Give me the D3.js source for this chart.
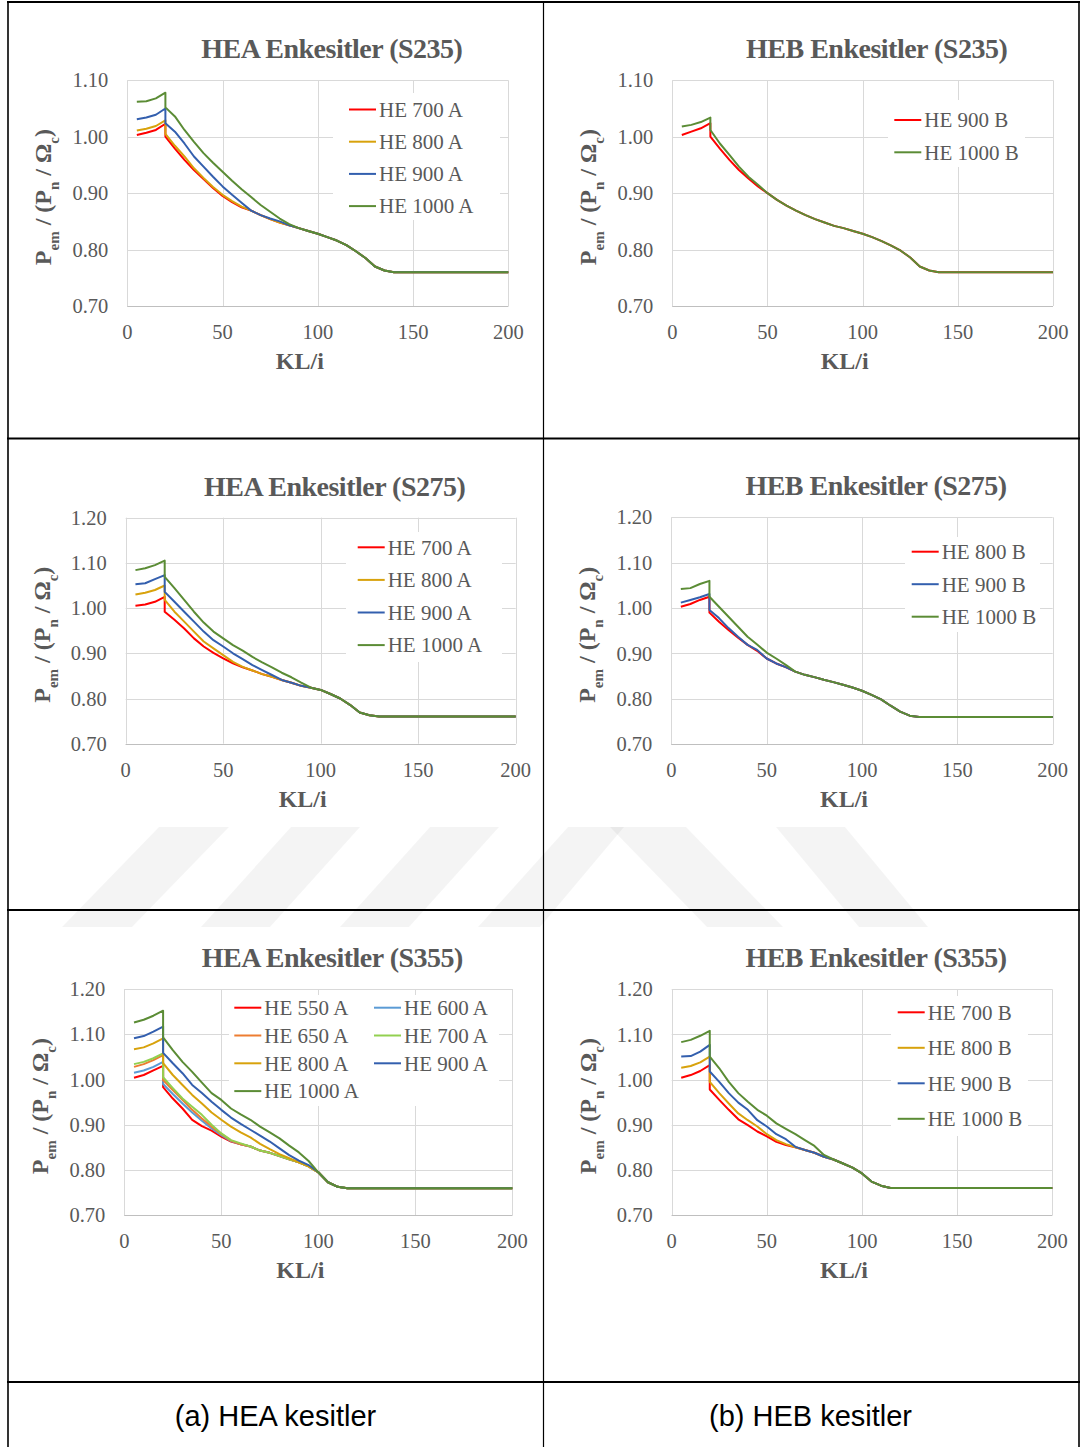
<!DOCTYPE html>
<html lang="tr">
<head>
<meta charset="utf-8">
<script src="https://d3js.org/d3.v7.min.js"></script>
<style>
  body { margin: 0; background: #fff; }
  svg text { fill: #595959; }
</style>
</head>
<body>
<script>
// KL/i values shared by every series (20 appears twice: the jump)
var kl = [5, 10, 15, 20, 20, 25, 30, 35, 40, 45, 50, 55, 60, 65, 70, 75, 80, 85, 90, 95, 100, 105, 110, 115, 120, 125, 130, 135, 140, 200];

var xTicks = [0, 50, 100, 150, 200];
var yTicks110 = [0.70, 0.80, 0.90, 1.00, 1.10];
var yTicks120 = [0.70, 0.80, 0.90, 1.00, 1.10, 1.20];

var titles = ["HEA Enkesitler (S235)", "HEB Enkesitler (S235)", "HEA Enkesitler (S275)",
              "HEB Enkesitler (S275)", "HEA Enkesitler (S355)", "HEB Enkesitler (S355)"];
var captions = ["(a) HEA kesitler", "(b) HEB kesitler"];

// S235 HEA
var a235_700  = [1.003,1.007,1.012,1.023,1.000,0.979,0.959,0.941,0.925,0.909,0.895,0.884,0.875,0.869,0.861,0.854,0.848,0.843,0.838,0.833,0.828,0.822,0.816,0.808,0.797,0.785,0.770,0.763,0.760,0.760];
var a235_800  = [1.011,1.014,1.019,1.029,1.005,0.984,0.965,0.944,0.927,0.911,0.897,0.886,0.876,0.869,0.861,0.854,0.848,0.843,0.838,0.833,0.828,0.822,0.816,0.808,0.797,0.785,0.770,0.763,0.760,0.760];
var a235_900  = [1.031,1.034,1.039,1.050,1.024,1.009,0.988,0.965,0.947,0.929,0.912,0.897,0.883,0.869,0.861,0.855,0.850,0.843,0.838,0.833,0.828,0.822,0.816,0.808,0.797,0.785,0.770,0.763,0.760,0.760];
var a235_1000 = [1.062,1.063,1.068,1.078,1.052,1.036,1.012,0.991,0.971,0.954,0.938,0.922,0.907,0.893,0.879,0.867,0.855,0.845,0.838,0.833,0.828,0.822,0.816,0.808,0.797,0.785,0.770,0.763,0.760,0.760];

// S235 HEB
var b235_900  = [1.003,1.009,1.015,1.024,1.000,0.979,0.959,0.941,0.926,0.912,0.900,0.888,0.878,0.869,0.861,0.854,0.848,0.842,0.838,0.833,0.828,0.822,0.815,0.807,0.798,0.786,0.770,0.763,0.760,0.760];
var b235_1000 = [1.018,1.021,1.026,1.034,1.012,0.988,0.968,0.947,0.929,0.915,0.900,0.888,0.878,0.869,0.861,0.854,0.848,0.842,0.838,0.833,0.828,0.822,0.815,0.807,0.798,0.786,0.770,0.763,0.760,0.760];

// S275 HEA
var a275_700  = [1.005,1.008,1.014,1.025,0.992,0.974,0.955,0.933,0.915,0.901,0.889,0.878,0.869,0.862,0.854,0.848,0.841,0.835,0.828,0.824,0.819,0.810,0.800,0.786,0.769,0.763,0.760,0.760,0.760,0.760];
var a275_800  = [1.030,1.034,1.040,1.050,1.018,0.992,0.970,0.948,0.926,0.911,0.896,0.881,0.870,0.862,0.854,0.848,0.841,0.835,0.828,0.824,0.819,0.810,0.800,0.786,0.769,0.763,0.760,0.760,0.760,0.760];
var a275_900  = [1.053,1.055,1.064,1.073,1.036,1.014,0.992,0.970,0.948,0.929,0.915,0.900,0.887,0.874,0.863,0.852,0.841,0.835,0.828,0.824,0.819,0.810,0.800,0.786,0.769,0.763,0.760,0.760,0.760,0.760];
var a275_1000 = [1.084,1.088,1.095,1.105,1.069,1.044,1.018,0.992,0.968,0.948,0.933,0.918,0.906,0.892,0.880,0.869,0.857,0.847,0.835,0.824,0.819,0.810,0.800,0.786,0.769,0.763,0.760,0.760,0.760,0.760];

// S275 HEB
var b275_800  = [1.003,1.009,1.018,1.025,0.990,0.970,0.952,0.935,0.919,0.906,0.889,0.878,0.870,0.860,0.853,0.848,0.842,0.837,0.831,0.825,0.818,0.809,0.799,0.785,0.772,0.763,0.760,0.760,0.760,0.760];
var b275_900  = [1.012,1.018,1.024,1.031,0.996,0.978,0.956,0.937,0.919,0.908,0.889,0.878,0.870,0.860,0.853,0.848,0.842,0.837,0.831,0.825,0.818,0.809,0.799,0.785,0.772,0.763,0.760,0.760,0.760,0.760];
var b275_1000 = [1.042,1.044,1.053,1.060,1.025,1.003,0.981,0.959,0.937,0.920,0.902,0.889,0.875,0.860,0.853,0.848,0.842,0.837,0.831,0.825,0.818,0.809,0.799,0.785,0.772,0.763,0.760,0.760,0.760,0.760];

// S355 HEA
var a355_550  = [1.004,1.010,1.020,1.030,0.983,0.958,0.936,0.911,0.897,0.887,0.874,0.863,0.857,0.852,0.843,0.838,0.831,0.824,0.817,0.808,0.795,0.773,0.763,0.760,0.760,0.760,0.760,0.760,0.760,0.760];
var a355_600  = [1.015,1.020,1.028,1.039,0.990,0.968,0.947,0.927,0.909,0.892,0.877,0.864,0.857,0.852,0.843,0.838,0.831,0.824,0.817,0.808,0.795,0.773,0.763,0.760,0.760,0.760,0.760,0.760,0.760,0.760];
var a355_650  = [1.028,1.034,1.043,1.054,0.999,0.977,0.955,0.933,0.914,0.896,0.880,0.865,0.857,0.852,0.843,0.838,0.831,0.824,0.817,0.808,0.795,0.773,0.763,0.760,0.760,0.760,0.760,0.760,0.760,0.760];
var a355_700  = [1.034,1.039,1.047,1.058,1.005,0.981,0.958,0.940,0.922,0.900,0.881,0.866,0.859,0.852,0.843,0.838,0.831,0.824,0.817,0.808,0.795,0.773,0.763,0.760,0.760,0.760,0.760,0.760,0.760,0.760];
var a355_800  = [1.067,1.071,1.080,1.091,1.036,1.010,0.988,0.966,0.947,0.927,0.911,0.896,0.883,0.872,0.858,0.846,0.835,0.826,0.817,0.808,0.795,0.773,0.763,0.760,0.760,0.760,0.760,0.760,0.760,0.760];
var a355_900  = [1.091,1.096,1.106,1.117,1.059,1.036,1.014,0.988,0.970,0.951,0.933,0.916,0.902,0.889,0.876,0.863,0.848,0.833,0.821,0.811,0.795,0.773,0.763,0.760,0.760,0.760,0.760,0.760,0.760,0.760];
var a355_1000 = [1.126,1.132,1.141,1.152,1.093,1.065,1.039,1.017,0.993,0.970,0.955,0.936,0.923,0.911,0.896,0.883,0.870,0.854,0.839,0.820,0.795,0.773,0.763,0.760,0.760,0.760,0.760,0.760,0.760,0.760];

// S355 HEB
var b355_700  = [1.004,1.010,1.019,1.032,0.978,0.955,0.933,0.912,0.899,0.885,0.874,0.862,0.855,0.850,0.844,0.838,0.829,0.823,0.814,0.805,0.792,0.774,0.765,0.760,0.760,0.760,0.760,0.760,0.760,0.760];
var b355_800  = [1.026,1.030,1.038,1.051,0.995,0.970,0.947,0.925,0.910,0.896,0.879,0.866,0.857,0.850,0.844,0.838,0.829,0.823,0.814,0.805,0.792,0.774,0.765,0.760,0.760,0.760,0.760,0.760,0.760,0.760];
var b355_900  = [1.051,1.052,1.062,1.077,1.018,0.995,0.970,0.949,0.933,0.910,0.896,0.879,0.868,0.851,0.844,0.838,0.829,0.823,0.814,0.805,0.792,0.774,0.765,0.760,0.760,0.760,0.760,0.760,0.760,0.760];
var b355_1000 = [1.083,1.088,1.097,1.108,1.051,1.025,0.995,0.970,0.951,0.933,0.920,0.903,0.891,0.879,0.866,0.853,0.833,0.823,0.814,0.805,0.792,0.774,0.765,0.760,0.760,0.760,0.760,0.760,0.760,0.760];

var RED = "#ff0000", GOLD = "#d8a20c", BLUE = "#335fae", GREEN = "#5b8c35",
    ORANGE = "#ed7d31", LBLUE = "#5b9bd5", LGREEN = "#92d050";

var charts = [
  { title: titles[0], yTicks: yTicks110, box: [127.3, 508.3, 80.3, 306],
    legend: { x: 349, y: 109.5, dy: 32.2, bg: [333, 93, 167, 127] },
    series: [["HE 700 A", a235_700, RED], ["HE 800 A", a235_800, GOLD], ["HE 900 A", a235_900, BLUE], ["HE 1000 A", a235_1000, GREEN]] },
  { title: titles[1], yTicks: yTicks110, box: [672.3, 1053, 80.3, 306],
    legend: { x: 894.3, y: 120, dy: 32.3, bg: [888, 100, 137, 67] },
    series: [["HE 900 B", b235_900, RED], ["HE 1000 B", b235_1000, GREEN]] },
  { title: titles[2], yTicks: yTicks120, box: [125.7, 515.7, 517.7, 743.7],
    legend: { x: 357.7, y: 547.3, dy: 32.6, bg: [346, 532, 156, 130] },
    series: [["HE 700 A", a275_700, RED], ["HE 800 A", a275_800, GOLD], ["HE 900 A", a275_900, BLUE], ["HE 1000 A", a275_1000, GREEN]] },
  { title: titles[3], yTicks: yTicks120, box: [671.3, 1052.7, 517.3, 744.3],
    legend: { x: 911.7, y: 551.7, dy: 32.5, bg: [905, 537, 135, 95] },
    series: [["HE 800 B", b275_800, RED], ["HE 900 B", b275_900, BLUE], ["HE 1000 B", b275_1000, GREEN]] },
  { title: titles[4], yTicks: yTicks120, box: [124.3, 512.3, 989, 1215.3],
    legend: { x: 234.3, y: 1007.7, dy: 27.8, col2: 374, bg: [229, 995, 270, 111] },
    series: [["HE 550 A", a355_550, RED], ["HE 600 A", a355_600, LBLUE], ["HE 650 A", a355_650, ORANGE], ["HE 700 A", a355_700, LGREEN],
             ["HE 800 A", a355_800, GOLD], ["HE 900 A", a355_900, BLUE], ["HE 1000 A", a355_1000, GREEN]] },
  { title: titles[5], yTicks: yTicks120, box: [671.7, 1052.3, 989.3, 1215],
    legend: { x: 897.7, y: 1012.3, dy: 35.5, bg: [891, 996, 137, 140] },
    series: [["HE 700 B", b355_700, RED], ["HE 800 B", b355_800, GOLD], ["HE 900 B", b355_900, BLUE], ["HE 1000 B", b355_1000, GREEN]] }
];

var W = 1083, H = 1447;
var svg = d3.select("body").append("svg").attr("width", W).attr("height", H);
svg.append("rect").attr("width", W).attr("height", H).attr("fill", "#fff");

// faint watermark stripes behind the middle row
var wm = svg.append("g").attr("fill", "#000").attr("fill-opacity", 0.045);
[
  [[159, 827], [229, 827], [132, 927], [62, 927]],
  [[291, 827], [360, 827], [270, 927], [201, 927]],
  [[430, 827], [499, 827], [409, 927], [340, 927]],
  [[568, 827], [624, 827], [540, 927], [478, 927]],
  [[610, 827], [686, 827], [783, 927], [707, 927]],
  [[776, 827], [845, 827], [928, 927], [859, 927]]
].forEach(function (p) {
  wm.append("polygon").attr("points", p.map(function (q) { return q.join(","); }).join(" "));
});

var serif = "'Liberation Serif', 'Times New Roman', serif";

charts.forEach(function (c) {
  var x = d3.scaleLinear().domain([0, 200]).range([c.box[0], c.box[1]]);
  var y = d3.scaleLinear().domain([0.70, c.yTicks[c.yTicks.length - 1]]).range([c.box[3], c.box[2]]);
  var g = svg.append("g");

  // gridlines
  g.selectAll(".hg").data(c.yTicks).enter().append("line")
    .attr("x1", x(0)).attr("x2", x(200))
    .attr("y1", function (d) { return Math.round(y(d)) + 0.5; })
    .attr("y2", function (d) { return Math.round(y(d)) + 0.5; })
    .attr("stroke", "#d9d9d9").attr("stroke-width", 1);
  g.selectAll(".vg").data(xTicks).enter().append("line")
    .attr("y1", y(0.70)).attr("y2", y(c.yTicks[c.yTicks.length - 1]))
    .attr("x1", function (d) { return Math.round(x(d)) + 0.5; })
    .attr("x2", function (d) { return Math.round(x(d)) + 0.5; })
    .attr("stroke", "#d9d9d9").attr("stroke-width", 1);
  g.append("line").attr("x1", x(0)).attr("x2", x(200))
    .attr("y1", Math.round(y(0.70)) + 0.5).attr("y2", Math.round(y(0.70)) + 0.5)
    .attr("stroke", "#bfbfbf");

  // tick labels
  g.selectAll(".yl").data(c.yTicks).enter().append("text")
    .attr("x", x(0) - 19).attr("y", function (d) { return y(d); }).attr("dy", "0.35em")
    .attr("text-anchor", "end").style("font", "20.5px " + serif)
    .text(d3.format(".2f"));
  g.selectAll(".xl").data(xTicks).enter().append("text")
    .attr("x", function (d) { return x(d); }).attr("y", y(0.70) + 33)
    .attr("text-anchor", "middle").style("font", "20.5px " + serif)
    .text(function (d) { return d; });

  // titles
  var midX = (c.box[0] + c.box[1]) / 2;
  g.append("text").attr("x", midX + 14).attr("y", c.box[2] - 22)
    .attr("text-anchor", "middle").style("font", "bold 28px " + serif)
    .style("letter-spacing", "-0.5px").text(c.title);
  g.append("text").attr("x", midX - 18).attr("y", c.box[3] + 63)
    .attr("text-anchor", "middle").style("font", "bold 24px " + serif).text("KL/i");

  var yl = g.append("text")
    .attr("transform", "translate(" + (c.box[0] - 76) + "," + ((c.box[2] + c.box[3]) / 2 + 4) + ") rotate(-90)")
    .attr("text-anchor", "middle").style("font", "bold 24px " + serif);
  yl.append("tspan").text("P");
  yl.append("tspan").attr("baseline-shift", "sub").style("font-size", "15px").text("em");
  yl.append("tspan").text(" / (P");
  yl.append("tspan").attr("baseline-shift", "sub").style("font-size", "15px").text("n");
  yl.append("tspan").text(" / \u03A9");
  yl.append("tspan").attr("baseline-shift", "sub").style("font-size", "15px").text("c");
  yl.append("tspan").text(")");

  // legend background hides the grid
  g.append("rect").attr("x", c.legend.bg[0]).attr("y", c.legend.bg[1])
    .attr("width", c.legend.bg[2]).attr("height", c.legend.bg[3]).attr("fill", "#fff");

  // series
  var line = d3.line()
    .x(function (d) { return x(d[0]); })
    .y(function (d) { return y(d[1]); });
  c.series.forEach(function (s) {
    g.append("path").datum(kl.map(function (k, i) { return [k, s[1][i]]; }))
      .attr("d", line).attr("fill", "none").attr("stroke", s[2])
      .attr("stroke-width", 2).attr("stroke-linejoin", "round");
  });

  // legend entries
  c.series.forEach(function (s, i) {
    var lx = c.legend.x, row = i;
    if (c.legend.col2) { lx = (i % 2 === 0) ? c.legend.x : c.legend.col2; row = Math.floor(i / 2); }
    var ly = c.legend.y + row * c.legend.dy;
    g.append("line").attr("x1", lx).attr("x2", lx + 27).attr("y1", ly).attr("y2", ly)
      .attr("stroke", s[2]).attr("stroke-width", 2);
    g.append("text").attr("x", lx + 30).attr("y", ly).attr("dy", "0.35em")
      .style("font", "21px " + serif).text(s[0]);
  });
});

// table rules
var rules = svg.append("g").attr("stroke", "#000");
[2, 438.5, 910, 1382].forEach(function (yy) {
  rules.append("line").attr("x1", 7).attr("x2", 1080).attr("y1", yy).attr("y2", yy).attr("stroke-width", 2.2);
});
[8, 543.5, 1079].forEach(function (xx) {
  rules.append("line").attr("x1", xx).attr("x2", xx).attr("y1", 1).attr("y2", H).attr("stroke-width", xx === 543.5 ? 1.2 : 1.6);
});

// captions
svg.selectAll(".cap").data(captions).enter().append("text")
  .attr("x", function (d, i) { return i === 0 ? 275.5 : 810.5; })
  .attr("y", 1426).attr("text-anchor", "middle")
  .style("font", "29px 'Liberation Sans', Arial, sans-serif").style("fill", "#000")
  .text(function (d) { return d; });
</script>
</body>
</html>
